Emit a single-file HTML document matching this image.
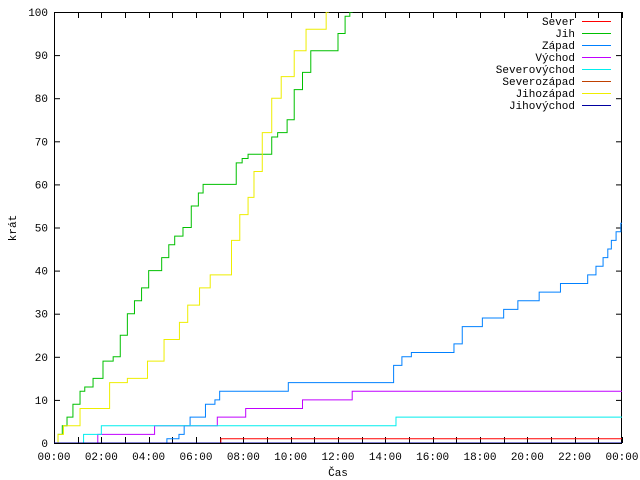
<!DOCTYPE html>
<html><head><meta charset="utf-8"><style>
html,body{margin:0;padding:0;background:#fff;}
svg{display:block;font-family:"Liberation Mono","DejaVu Sans Mono",monospace;font-size:11px;}
</style></head><body>
<svg id="chart" width="640" height="480" xmlns="http://www.w3.org/2000/svg"></svg>
<script>
const seriesNames = ["Sever","Jih","Západ","Východ","Severovýchod","Severozápad","Jihozápad","Jihovýchod"];
const seriesColors = ["#ff0000","#00c000","#0080ff","#c000ff","#00eeee","#c04000","#eeee00","#0000a0"];
const severT = [0,7.05], severV = [0,1];
const jihT = [0,0.17,0.35,0.55,0.8,1.1,1.3,1.65,2.07,2.5,2.8,3.1,3.4,3.7,4.0,4.55,4.85,5.1,5.45,5.8,6.1,6.3,7.7,7.95,8.2,9.2,9.45,9.85,10.15,10.5,10.85,11.25,12.0,12.3,12.5,12.6];
const jihV = [0,2,4,6,9,12,13,15,19,20,25,30,33,36,40,43,46,48,50,55,58,60,65,66,67,71,72,75,82,86,91,91,95,99,100,105];
const zapadT = [0,4.77,5.28,5.5,5.75,6.4,6.8,7.0,9.9,14.2,14.35,14.7,15.1,16.9,17.25,18.1,19.0,19.6,20.5,21.4,22.55,22.9,23.2,23.4,23.55,23.75,23.95];
const zapadV = [0,1,2,4,6,9,10,12,14,14,18,20,21,23,27,29,31,33,35,37,39,41,43,45,47,49,51];
const vychodT = [0,1.85,4.25,6.9,8.1,10.5,12.6], vychodV = [0,2,4,6,8,10,12];
const svT = [0,1.25,2.0,14.45], svV = [0,2,4,6];
const szT = [0], szV = [0];
const jzT = [0,0.17,0.4,1.1,2.35,3.1,3.95,4.65,5.3,5.65,6.15,6.6,7.2,7.5,7.85,8.2,8.45,8.8,9.2,9.6,10.15,10.65,11.5,11.6];
const jzV = [0,2,4,8,14,15,19,24,28,32,36,39,39,47,53,57,63,72,80,85,91,96,100,105];
const jvT = [0], jvV = [0];
const allT = [severT,jihT,zapadT,vychodT,svT,szT,jzT,jvT];
const allV = [severV,jihV,zapadV,vychodV,svV,szV,jzV,jvV];
const yTicks = [0,10,20,30,40,50,60,70,80,90,100];
const xTickLabels = ["00:00","02:00","04:00","06:00","08:00","10:00","12:00","14:00","16:00","18:00","20:00","22:00","00:00"];

const NS="http://www.w3.org/2000/svg", svg=document.getElementById('chart');
const L=54,R=622,T=12,B=443;
const xs=h=>L+h*(R-L)/24, ys=v=>B-v*(B-T)/100;
function mk(tag,attrs,parent){const e=document.createElementNS(NS,tag);for(const k in attrs)e.setAttribute(k,attrs[k]);(parent||svg).appendChild(e);return e;}
const defs=mk('defs',{});const cp=mk('clipPath',{id:'pc'},defs);mk('rect',{x:L,y:T,width:R-L,height:B-T},cp);

const axes=mk('g',{});


yTicks.forEach(v=>{
  const y=ys(v)+0.5;
  mk('line',{x1:L,x2:L+6,y1:y,y2:y,stroke:'#000'},axes);
  mk('line',{x1:R-6,x2:R,y1:y,y2:y,stroke:'#000'},axes);
  const t=mk('text',{x:L-6,y:ys(v)+4,'text-anchor':'end'},axes);t.textContent=v;
  
  
});
for(let h=0;h<=24;h++){
  const x=Math.round(xs(h))+0.5, len=6;
  mk('line',{x1:x,x2:x,y1:B,y2:B-len,stroke:'#000'},axes);
  mk('line',{x1:x,x2:x,y1:T,y2:T+len,stroke:'#000'},axes);
}
xTickLabels.forEach((s,i)=>{
  const t=mk('text',{x:xs(i*2),y:B+17,'text-anchor':'middle'},axes);t.textContent=s;
  
  
});
const xt=mk('text',{x:338,y:476,'text-anchor':'middle'});xt.textContent='Čas';


const yt=mk('text',{x:16,y:228,'text-anchor':'middle',transform:'rotate(-90 16 228)'});yt.textContent='krát';



const plot=mk('g',{'clip-path':'url(#pc)'});


allT.forEach((ts,i)=>{
  const vs=allV[i];let d='';
  for(let k=0;k<ts.length;k++){
    const x=xs(ts[k]), y=ys(vs[k]);
    if(k===0)d+='M'+x+' '+y;else d+=' L'+x+' '+ys(vs[k-1])+' L'+x+' '+y;
  }
  if(vs[vs.length-1]<=100) d+=' L'+xs(24)+' '+ys(vs[vs.length-1]);
  const p=mk('path',{d:d,fill:'none',stroke:seriesColors[i],'stroke-width':1},plot);
  
  
});
mk('rect',{x:L+0.5,y:T+0.5,width:R-L-1,height:B-T,fill:'none',stroke:'#000'},axes);

const leg=mk('g',{});


seriesNames.forEach((n,i)=>{
  const y=21+i*12;
  const t=mk('text',{x:575,y:y+4,'text-anchor':'end'},leg);t.textContent=n;
  
  
  mk('line',{x1:582,x2:611,y1:y+0.5,y2:y+0.5,stroke:seriesColors[i]},leg);
});
</script>
</body></html>
